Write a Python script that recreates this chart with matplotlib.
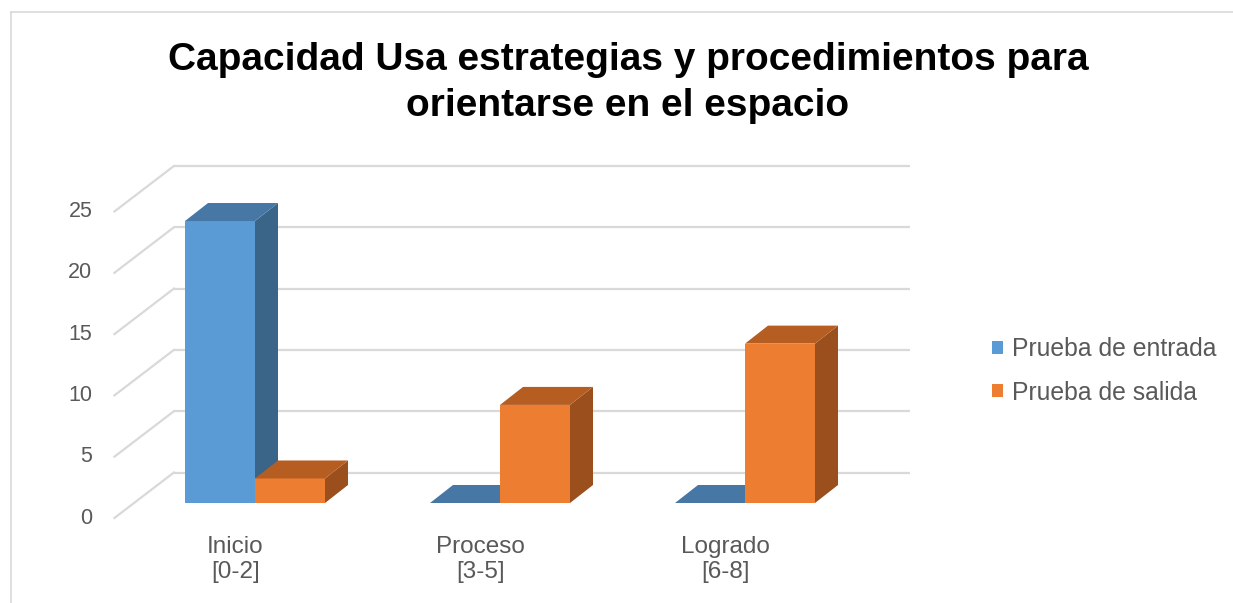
import matplotlib
matplotlib.use("Agg")
import matplotlib.pyplot as plt
from matplotlib.patches import Polygon, Patch
from matplotlib.lines import Line2D

# data
categories = ["Inicio\n[0-2]", "Proceso\n[3-5]", "Logrado\n[6-8]"]
series_names = ["Prueba de entrada", "Prueba de salida"]
entrada = [23, 0, 0]
salida = [2, 8, 13]
y_ticks = [0, 5, 10, 15, 20, 25]
title = "Capacidad Usa estrategias y procedimientos para\norientarse en el espacio"

plt.rcParams['font.family'] = ['Liberation Sans', 'DejaVu Sans']

W, H = 1233, 603
fig = plt.figure(figsize=(W / 100, H / 100), dpi=100)
ax = fig.add_axes([0, 0, 1, 1])

# pixel scale of the fake 3d chart (front plane of the bars)
px_cat, px_unit = 245.0, 12.26
x0_px, y0_px = 255.0, 503.0
ax.set_xlim(-x0_px / px_cat, (W - x0_px) / px_cat)
ax.set_ylim((y0_px - H) / px_unit, y0_px / px_unit)
ax.axis('off')

def off(dx_px, dy_px):
    return dx_px / px_cat, dy_px / px_unit

bar_d = off(23, 18)        # depth of a bar
front_d = off(-19.6, -15)  # floor front edge relative to bar plane
back_d = off(39.9, 30.5)   # back wall relative to bar plane
wall_l = (134 - x0_px) / px_cat
wall_r = (870 - x0_px) / px_cat
bw = 70 / px_cat

grid_c = "#d9d9d9"
for v in y_ticks:
    ax.plot([wall_l + back_d[0], wall_r + back_d[0]], [v + back_d[1]] * 2,
            color=grid_c, lw=1.6, zorder=1, solid_capstyle='butt')
    ax.plot([wall_l + front_d[0], wall_l + back_d[0]],
            [v + front_d[1], v + back_d[1]], color=grid_c, lw=1.6, zorder=1)
    ax.text(wall_l + front_d[0] - 22 / px_cat, v + front_d[1], str(v),
            ha='right', va='center', fontsize=15.5, color='#595959')

colors = {
    0: ("#5b9bd5", "#4677a5", "#3b6489"),
    1: ("#ed7d31", "#b65e22", "#9a4f1d"),
}

def draw_bar(x, v, cols):
    front, top, side = cols
    dx, dy = bar_d
    if v > 0:
        ax.add_patch(Polygon([(x, 0), (x + bw, 0), (x + bw, v), (x, v)],
                             closed=True, fc=front, ec='none', zorder=3))
        ax.add_patch(Polygon([(x + bw, 0), (x + bw + dx, dy), (x + bw + dx, v + dy), (x + bw, v)],
                             closed=True, fc=side, ec='none', zorder=3))
    ax.add_patch(Polygon([(x, v), (x + bw, v), (x + bw + dx, v + dy), (x + dx, v + dy)],
                         closed=True, fc=top, ec='none', zorder=3))

for i in range(len(categories)):
    draw_bar(i - bw, entrada[i], colors[0])
    draw_bar(i, salida[i], colors[1])
    ax.text(i + front_d[0], (y0_px - 536) / px_unit, categories[i],
            ha='center', va='top', fontsize=17.5, color='#595959', linespacing=1.15)

fig.text(628 / W, 1 - 42 / H, title, ha='center', va='top', fontsize=28,
         fontweight='bold', color='black', linespacing=1.36)

handles = [Patch(fc=colors[0][0], ec='none'), Patch(fc=colors[1][0], ec='none')]
fig.legend(handles, series_names, loc='center left', bbox_to_anchor=(970 / W, 1 - 371 / H),
           frameon=False, fontsize=17.8, handlelength=0.45, handleheight=0.45,
           handletextpad=0.35, labelspacing=0.78, labelcolor='#595959')

# chart border
fig.add_artist(Line2D([11 / W, 11 / W], [0, 1 - 12 / H], color='#d9d9d9', lw=1.2))
fig.add_artist(Line2D([11 / W, 1], [1 - 12 / H, 1 - 12 / H], color='#d9d9d9', lw=1.2))

fig.savefig("out.png", dpi=100)
